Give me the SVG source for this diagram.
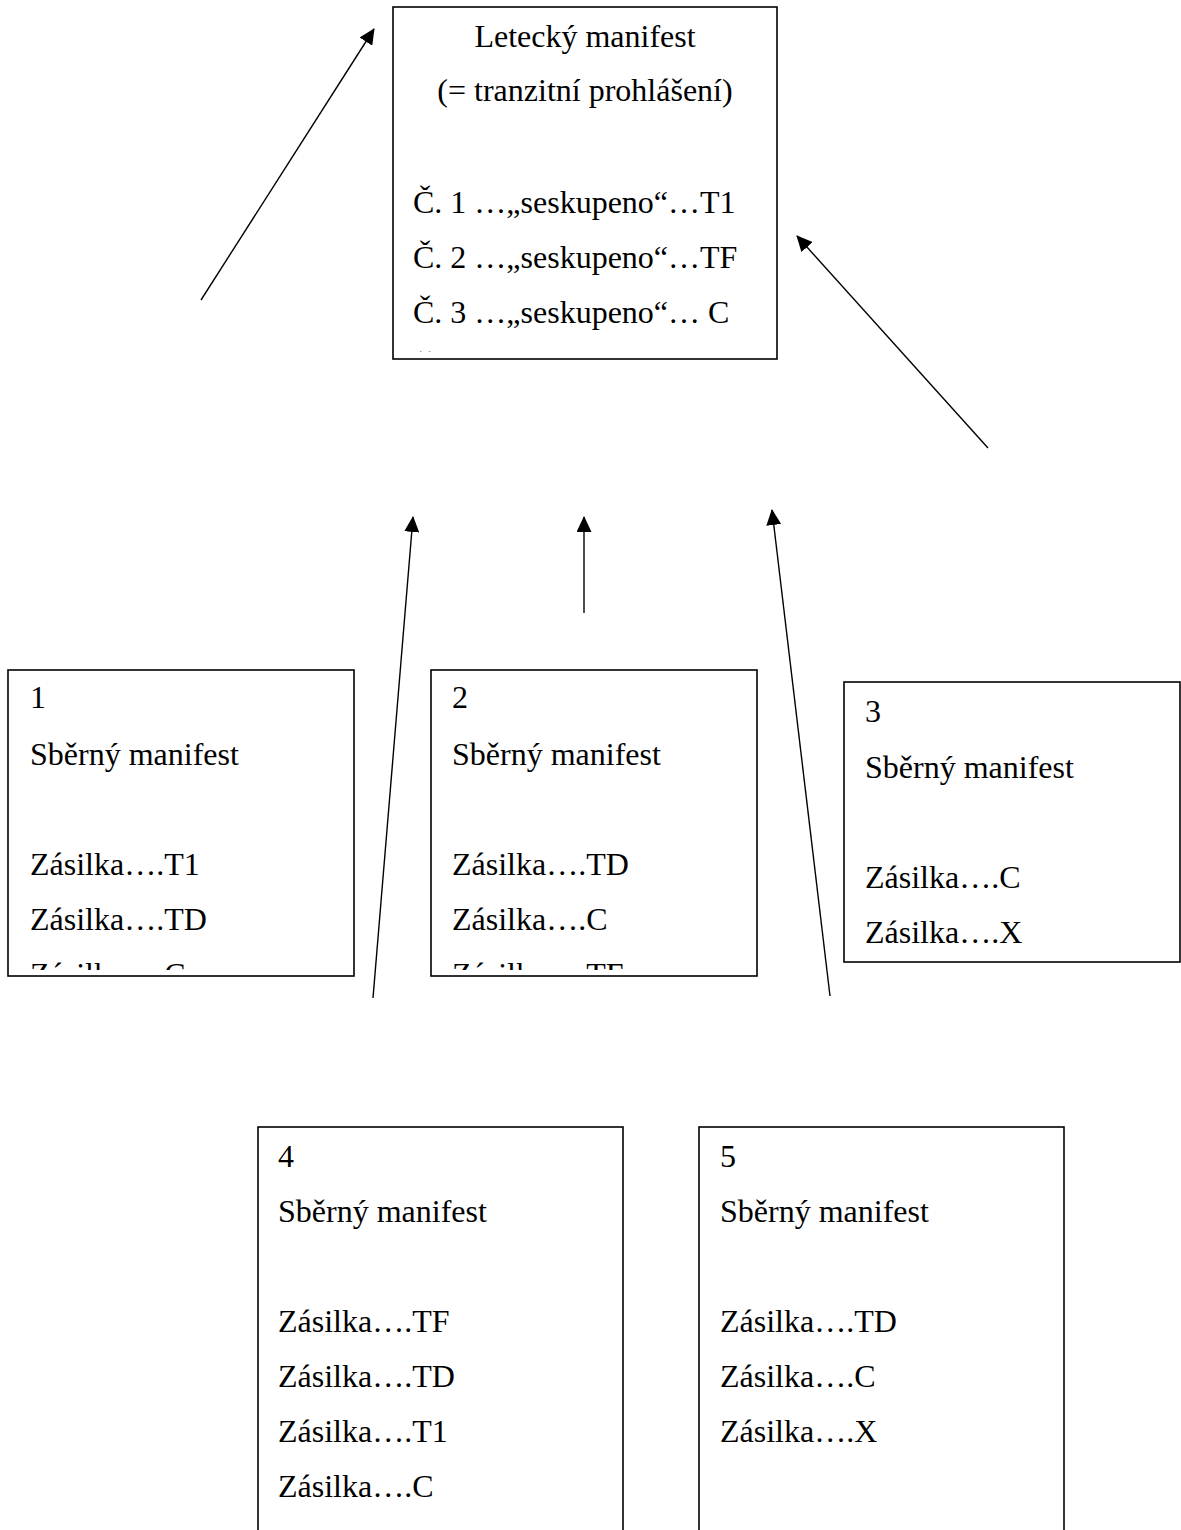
<svg xmlns="http://www.w3.org/2000/svg" width="1181" height="1530" viewBox="0 0 1181 1530">
  <style>
    .box { fill: #ffffff; stroke: #000000; stroke-width: 1.6; }
    .t { font-family: "Liberation Serif", "Times New Roman", serif; font-size: 32px; fill: #000000; }
    .mid { text-anchor: middle; }
    .edge { stroke: #000000; stroke-width: 1.4; fill: none; marker-end: url(#head); }
  </style>
  <defs>
    <marker id="head" viewBox="0 0 16 15" refX="15" refY="7.5" markerWidth="16" markerHeight="15" markerUnits="userSpaceOnUse" orient="auto">
      <path d="M0,0 L16,7.5 L0,15 Z" fill="#000000"/>
    </marker>
    <clipPath id="clip-air"><rect x="393" y="7" width="384" height="345"/></clipPath>
    <clipPath id="clip-m1"><rect x="8" y="670" width="346" height="300"/></clipPath>
    <clipPath id="clip-m2"><rect x="431" y="670" width="326" height="300"/></clipPath>
  </defs>

  <rect width="1181" height="1530" fill="#ffffff"/>

  <!-- air manifest -->
  <g id="air-manifest">
    <rect class="box" x="393" y="7" width="384" height="352"/>
    <g clip-path="url(#clip-air)">
      <text class="t mid" x="585" y="47">Letecký manifest</text>
      <text class="t mid" x="585" y="101">(= tranzitní prohlášení)</text>
      <text class="t" x="413" y="213">Č. 1 …„seskupeno“…T1</text>
      <text class="t" x="413" y="268">Č. 2 …„seskupeno“…TF</text>
      <text class="t" x="413" y="323">Č. 3 …„seskupeno“… C</text>
      <text class="t" x="413" y="379">Č</text>
    </g>
  </g>

  <!-- consolidated manifest 1 -->
  <g id="manifest-1">
    <rect class="box" x="8" y="670" width="346" height="306"/>
    <g clip-path="url(#clip-m1)">
      <text class="t" x="30" y="708">1</text>
      <text class="t" x="30" y="765">Sběrný manifest</text>
      <text class="t" x="30" y="875">Zásilka….T1</text>
      <text class="t" x="30" y="930">Zásilka….TD</text>
      <text class="t" x="30" y="985">Zásilka….C</text>
    </g>
  </g>

  <!-- consolidated manifest 2 -->
  <g id="manifest-2">
    <rect class="box" x="431" y="670" width="326" height="306"/>
    <g clip-path="url(#clip-m2)">
      <text class="t" x="452" y="708">2</text>
      <text class="t" x="452" y="765">Sběrný manifest</text>
      <text class="t" x="452" y="875">Zásilka….TD</text>
      <text class="t" x="452" y="930">Zásilka….C</text>
      <text class="t" x="452" y="985">Zásilka….TF</text>
    </g>
  </g>

  <!-- consolidated manifest 3 -->
  <g id="manifest-3">
    <rect class="box" x="844" y="682" width="336" height="280"/>
    <text class="t" x="865" y="722">3</text>
    <text class="t" x="865" y="778">Sběrný manifest</text>
    <text class="t" x="865" y="888">Zásilka….C</text>
    <text class="t" x="865" y="943">Zásilka….X</text>
  </g>

  <!-- consolidated manifest 4 -->
  <g id="manifest-4">
    <rect class="box" x="258" y="1127" width="365" height="420"/>
    <text class="t" x="278" y="1167">4</text>
    <text class="t" x="278" y="1222">Sběrný manifest</text>
    <text class="t" x="278" y="1332">Zásilka….TF</text>
    <text class="t" x="278" y="1387">Zásilka….TD</text>
    <text class="t" x="278" y="1442">Zásilka….T1</text>
    <text class="t" x="278" y="1497">Zásilka….C</text>
  </g>

  <!-- consolidated manifest 5 -->
  <g id="manifest-5">
    <rect class="box" x="699" y="1127" width="365" height="420"/>
    <text class="t" x="720" y="1167">5</text>
    <text class="t" x="720" y="1222">Sběrný manifest</text>
    <text class="t" x="720" y="1332">Zásilka….TD</text>
    <text class="t" x="720" y="1387">Zásilka….C</text>
    <text class="t" x="720" y="1442">Zásilka….X</text>
  </g>

  <!-- arrows -->
  <g id="connectors">
    <line class="edge" x1="201" y1="300" x2="374" y2="29"/>
    <line class="edge" x1="988" y1="448" x2="797" y2="236"/>
    <line class="edge" x1="373" y1="998" x2="413" y2="517"/>
    <line class="edge" x1="584" y1="613" x2="584" y2="517"/>
    <line class="edge" x1="830" y1="996" x2="772" y2="510"/>
  </g>
</svg>
